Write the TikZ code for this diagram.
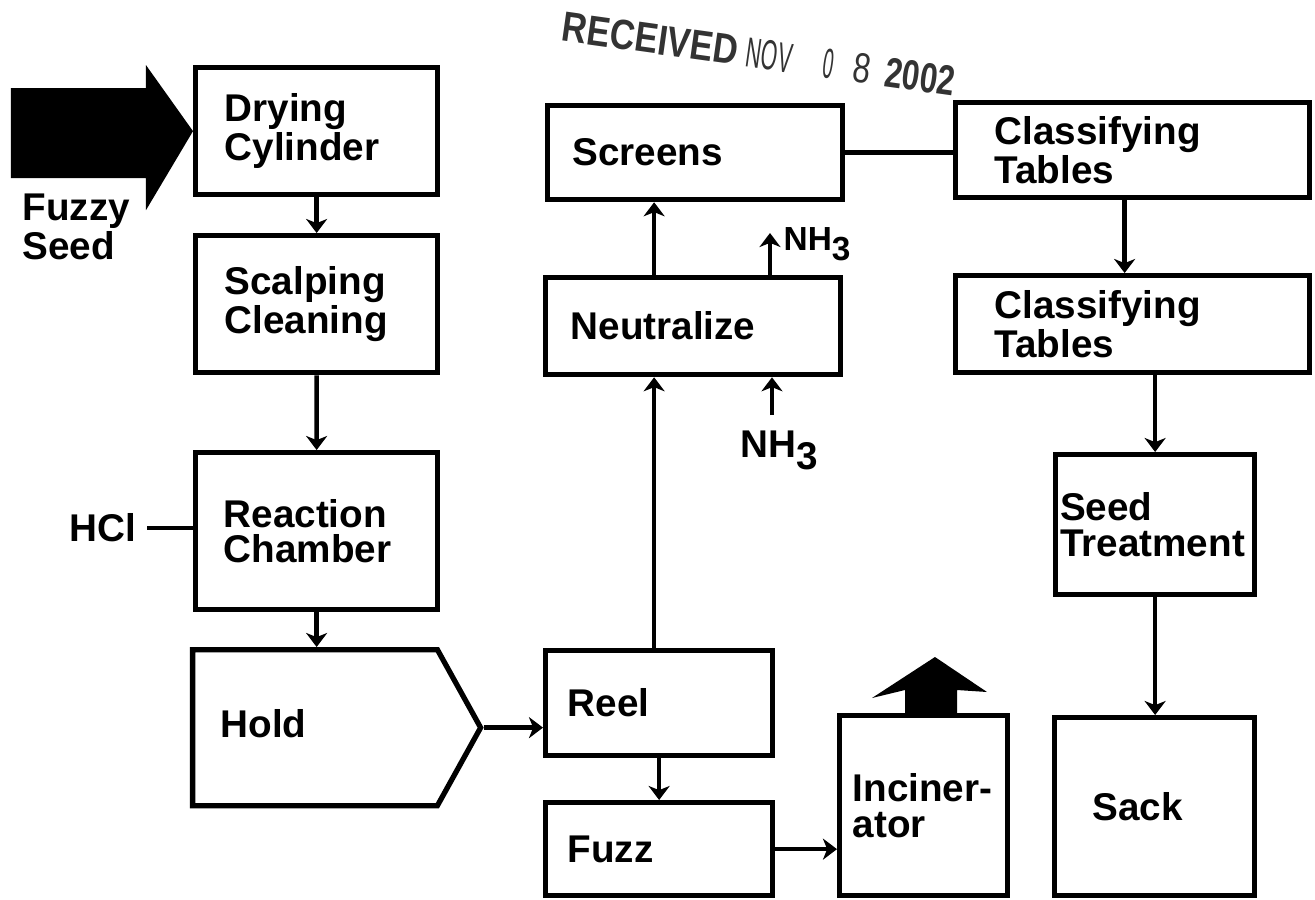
\documentclass[tikz,border=0pt]{standalone}
\usepackage{fontspec}
\setmainfont{Liberation Sans}
\usepackage{graphicx}
\usetikzlibrary{arrows.meta, shapes.symbols}

\newcommand{\boxfont}{\bfseries\fontsize{11}{10}\selectfont\hyphenpenalty=10000 }
\newcommand{\sub}[1]{\raisebox{-0.6ex}{#1}}

\begin{document}
\begin{tikzpicture}[
    % Boîtes du procédé : marge, largeur du texte, hauteur
    box/.style n args={3}{draw, line width=1.5pt, anchor=north west,
        align=left, inner ysep=0pt, inner xsep=#1, text width=#2,
        minimum height=#3, font=\boxfont},
    holdbox/.style={draw, line width=1.5pt, signal, signal to=east,
        signal pointer angle=122, minimum width=2.88cm,
        minimum height=1.56cm, anchor=north west, inner sep=0pt},
    lbl/.style={font=\boxfont, inner sep=0pt},
    flow/.style={line width=1.3pt, -{Stealth[length=4pt, width=6pt, inset=1.2pt]}},
    pipe/.style={line width=1.3pt}
]
\useasboundingbox (0,0) rectangle (13.15,-9.00);

% Colonne de gauche
\node[box={0.29cm}{1.84cm}{1.27cm}] (dry) at (1.93,-0.65) {Drying\\Cylinder};
\node[box={0.29cm}{1.84cm}{1.37cm}] (scalp) at (1.93,-2.33) {Scalping\\Cleaning};
\node[box={0.28cm}{1.86cm}{1.57cm}] (react) at (1.93,-4.50) {Reaction\\Chamber};
\node[holdbox] (hold) at (1.90,-6.47) {};
\node[lbl, anchor=west] (holdtxt) at (2.20,-7.24) {Hold};

% Colonne du milieu
\node[box={0.25cm}{2.45cm}{0.94cm}] (screens) at (5.45,-1.03) {Screens};
\node[box={0.25cm}{2.45cm}{0.97cm}] (neutral) at (5.43,-2.75) {Neutralize};
\node[box={0.22cm}{1.83cm}{1.05cm}] (reel) at (5.43,-6.48) {Reel};
\node[box={0.22cm}{1.83cm}{0.93cm}] (fuzz) at (5.43,-8.00) {Fuzz};
\node[box={0.13cm}{1.42cm}{1.80cm}] (incin) at (8.37,-7.13) {Inciner-\\ator};

% Colonne de droite
\node[box={0.39cm}{2.76cm}{0.95cm}] (ctA) at (9.53,-1.00) {Classifying\\Tables};
\node[box={0.39cm}{2.76cm}{0.97cm}] (ctB) at (9.53,-2.73) {Classifying\\Tables};
\node[box={0.045cm}{1.90cm}{1.40cm}] (seed) at (10.53,-4.52) {Seed\\Treatment};
\node[box={0.38cm}{1.24cm}{1.78cm}] (sack) at (10.52,-7.15) {Sack};

% Entrées et sorties
\node[lbl, anchor=north west, align=left] (fuzzy) at (0.22,-1.93) {Fuzzy\\Seed};
\fill (dry.west) -- ++(-0.47,0.66) -- ++(0,-0.23) -- ++(-1.35,0) -- ++(0,-0.90)
    -- ++(1.35,0) -- ++(0,-0.32) -- cycle; % grosse flèche d'entrée
\node[lbl, inner xsep=0.1cm, anchor=east] (hcl) at (1.47,-5.28) {HCl};
\coordinate (nhup) at (7.70,-2.33);
\node[lbl, font=\boxfont\fontsize{9.5}{10}\selectfont, anchor=base west] (nhtop) at (7.83,-2.50) {NH\sub{3}};
\coordinate (nhin) at (7.72,-4.15);
\node[lbl, anchor=base west] (nhbot) at (7.40,-4.57) {NH\sub{3}};
\fill (9.05,-7.13) -- (9.05,-6.90) -- (8.72,-6.98) -- (9.35,-6.57) -- (9.87,-6.92)
    -- (9.57,-6.90) -- (9.57,-7.13) -- cycle; % fumée de l'incinérateur

% Tampon
\node[rotate=-8, text=black!80, inner sep=0pt, font=\fontsize{12}{12}\selectfont] (stamp) at (7.59,-0.54)
    {\scalebox{0.82}[1]{\bfseries RECEIVED}\hspace{0.09cm}\scalebox{0.5}[1]{NOV}\hspace{0.32cm}\scalebox{0.45}[1]{0}\hspace{0.19cm}\scalebox{0.75}[1]{8}\hspace{0.15cm}\scalebox{0.75}[1]{\bfseries 2002}};

% Liaisons
\draw[flow] (dry) -- (scalp);
\draw[flow] (scalp) -- (react);
\draw[flow] (react.south) -- (react.south |- hold.north);
\draw[flow] (hold.east) -- (hold.east -| reel.west);
\draw[flow] (reel) -- (fuzz);
\draw[flow] (fuzz.east) -- (fuzz.east -| incin.west);
\draw[flow] ([xshift=-0.05cm]reel.north) -- ([xshift=-0.05cm]reel.north |- neutral.south);
\draw[flow] ([xshift=-0.05cm]reel.north |- neutral.north) -- ([xshift=-0.05cm]reel.north |- screens.south);
\draw[pipe] (screens.east) -- (screens.east -| ctA.west);
\draw[flow] ([xshift=-0.08cm]ctA.south) -- ([xshift=-0.08cm]ctA.south |- ctB.north);
\draw[flow] (seed.north |- ctB.south) -- (seed.north);
\draw[flow] (seed.south) -- (seed.south |- sack.north);
\draw[pipe] (hcl.east) -- (hcl.east -| react.west);
\draw[flow] (nhup |- neutral.north) -- (nhup);
\draw[flow] (nhin) -- (nhin |- neutral.south);
\end{tikzpicture}
\end{document}
